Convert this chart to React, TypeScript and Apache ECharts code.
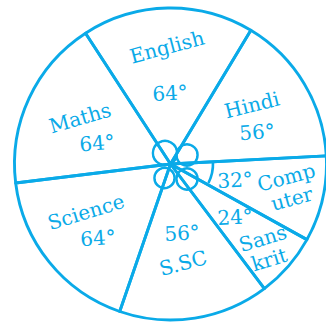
import { useEffect, useRef } from "react";
import * as echarts from "echarts";

const categories = ["English", "Hindi", "Computer", "Sanskrit", "S.SC", "Science", "Maths"];
const nameLabels = ["English", "Hindi", "Comp\nuter", "Sans\nkrit", "S.SC", "Science", "Maths"];
const degrees = [64, 56, 32, 24, 56, 64, 64];

const BLUE = "#0AAAE8";
const FONT = '"DejaVu Serif", "Liberation Serif", serif';
const CX = 170.5;
const CY = 164;
const R = 156;

// text placement (x, y, rotation in degrees)
const nameLayout = [
  [167, 47, 15],
  [252, 105, 14],
  [289, 188, 15],
  [266, 249, 17],
  [183, 263, 15],
  [86, 212, 17],
  [80, 118, 16],
];
const valueLayout = [
  [170, 93, 3],
  [257, 132, 4],
  [235, 180, 3],
  [235, 217, 3],
  [182, 233, 3],
  [98, 238, 4],
  [97, 143, 5],
];
// center "flower" petals: x, y, r
const petals = [
  [165, 153, 12],
  [187, 155, 10.5],
  [164.5, 178, 10],
  [187, 179, 10.5],
];

export default function App() {
  const ref = useRef<HTMLDivElement>(null);
  useEffect(() => {
    if (!ref.current) return;
    const chart = echarts.init(ref.current, null, { renderer: "svg" });
    const toRad = (d: number) => (d * Math.PI) / 180;
    const texts: any[] = [];
    categories.forEach((c, i) => {
      const [nx, ny, nr] = nameLayout[i];
      const [vx, vy, vr] = valueLayout[i];
      texts.push({
        type: "text",
        x: nx,
        y: ny,
        rotation: toRad(nr),
        z2: 5,
        style: {
          text: nameLabels[i],
          fill: BLUE,
          fontFamily: FONT,
          fontSize: 20,
          lineHeight: 22,
          align: "center",
          verticalAlign: "middle",
        },
      });
      texts.push({
        type: "text",
        x: vx,
        y: vy,
        rotation: toRad(vr),
        z2: 5,
        style: {
          text: degrees[i] + "°",
          fill: BLUE,
          fontFamily: FONT,
          fontSize: 20,
          align: "center",
          verticalAlign: "middle",
        },
      });
    });
    const petalStrokes = petals.map(([x, y, r]) => ({
      type: "circle",
      z2: 0,
      shape: { cx: x, cy: y, r },
      style: { fill: "none", stroke: BLUE, lineWidth: 2.6 },
    }));
    const petalFills = petals.map(([x, y, r]) => ({
      type: "circle",
      z2: 1,
      shape: { cx: x, cy: y, r: r - 1.3 },
      style: { fill: "#fff", stroke: "none" },
    }));
    const angleArc = {
      type: "arc",
      z2: 2,
      shape: { cx: CX + 0.5, cy: CY, r: 42, startAngle: -0.04, endAngle: 0.47 },
      style: { fill: "none", stroke: BLUE, lineWidth: 2.6 },
    };
    chart.setOption({
      animation: false,
      backgroundColor: "#fff",
      graphic: { elements: [...petalStrokes, ...petalFills, angleArc, ...texts] },
      series: [
        {
          type: "pie",
          z: 3,
          center: [CX, CY],
          radius: [0, R],
          startAngle: 123,
          clockwise: true,
          silent: true,
          label: { show: false },
          labelLine: { show: false },
          emphasis: { disabled: true },
          itemStyle: { color: "rgba(0,0,0,0)", borderColor: BLUE, borderWidth: 2.9 },
          data: categories.map((c, i) => ({ name: c, value: degrees[i] })),
        },
      ],
    });
    return () => chart.dispose();
  }, []);
  return (
    <div
      ref={ref}
      style={{ position: "fixed", left: 0, top: 0, width: 326, height: 323 }}
    />
  );
}
